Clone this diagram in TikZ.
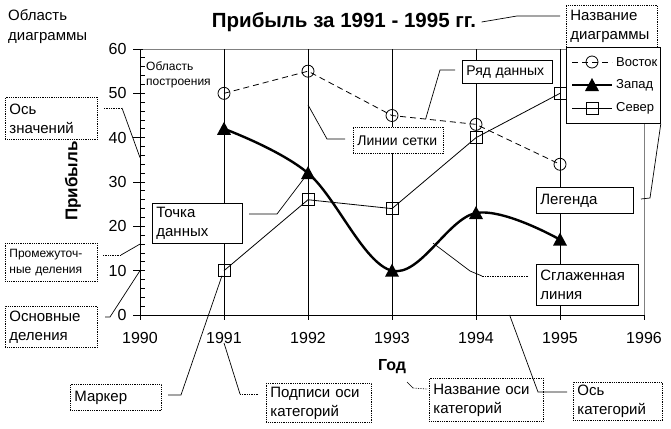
\documentclass[tikz,border=0pt]{standalone}
\usepackage{fontspec}
\setmainfont{Liberation Sans}
\definecolor{cFrame}{HTML}{808080}
\usetikzlibrary{calc}

\tikzset{
  callbox/.style={draw, fill=white, line width=0.8pt, align=left, anchor=north west, inner xsep=4pt, inner ysep=1pt, font=\fontsize{15}{19}\selectfont},
  dotbox/.style={callbox, densely dotted},
  lead/.style={line width=0.7pt},
  eastline/.style={line width=0.8pt, dash pattern=on 6pt off 4pt},
  westline/.style={line width=2.4pt},
  northline/.style={line width=0.8pt},
  legtext/.style={anchor=west, inner sep=1pt, font=\fontsize{13}{15}\selectfont},
  eastmark/.pic={\draw[line width=0.8pt] (0,0) circle (6pt);},
  westmark/.pic={\fill (0,7pt) -- (-7pt,-6pt) -- (7pt,-6pt) -- cycle;},
  northmark/.pic={\draw[line width=0.8pt] (-6pt,-6pt) rectangle (6pt,6pt);},
}

\begin{document}
\begin{tikzpicture}[x=1pt, y=-1pt]
\useasboundingbox (0,0) rectangle (671,428);

% plot area
\begin{scope}[xshift=140pt, yshift=-315pt, x=84pt, y=4.433pt]
  \draw[cFrame, line width=0.8pt] (0,60) -- (6,60) -- (6,0);
  \foreach \i in {1,...,5}
    \draw[line width=0.9pt] (\i,0) -- (\i,60);
  \foreach \v in {2,4,...,58}
    \draw[line width=0.8pt] (0,\v) -- ++(5pt,0);
  \foreach \v in {0,10,...,60} {
    \draw[line width=0.8pt] (0,\v) ++(-7pt,0) -- ++(10pt,0);
    \node[anchor=east, font=\fontsize{16}{18}\selectfont] (val\v) at ([xshift=-10pt]0,\v) {\v};
  }
  \draw[line width=0.9pt] (0,60) -- (0,0) -- (6,0);
  \foreach \i/\yr in {0/1990,1/1991,2/1992,3/1993,4/1994,5/1995,6/1996} {
    \draw[line width=0.8pt] (\i,0) -- ++(0,-5pt);
    \node[font=\fontsize{16}{18}\selectfont] (yr\i) at ([yshift=-23pt]\i,0) {\yr};
  }
  % data: east / west / north
  \foreach \i/\e/\w/\n in {1/50/42/10, 2/55/32/26, 3/45/10/24, 4/43/23/40, 5/34/17/50} {
    \coordinate (e\i) at (\i,\e);
    \coordinate (w\i) at (\i,\w);
    \coordinate (n\i) at (\i,\n);
  }
  \draw[eastline] (e1) -- (e2) -- (e3) -- (e4) -- (e5);
  \draw[northline] (n1) -- (n2) -- (n3) -- (n4) -- (n5);
  \draw[westline] plot[smooth, tension=0.6] coordinates {(1,42) (2,32) (3,10) (4,23) (5,17)};
  \foreach \i in {1,...,5} {
    \pic at (e\i) {eastmark};
    \pic at (w\i) {westmark};
    \pic at (n\i) {northmark};
  }
  % leader targets
  \coordinate (valaxis-pt) at (0,35.5);
  \coordinate (minor-pt) at (0,16);
  \coordinate (major-pt) at (0,10);
  \coordinate (cataxis-pt) at (4.4,0);
  \coordinate (grid-pt) at (2,47.4);
  \coordinate (smooth-pt) at (3.49,16.2);
  \coordinate (series-pt) at ($(e3)!0.4!(e4)$);
\end{scope}

% legend
\node[draw, fill=white, line width=0.8pt, anchor=north west, minimum width=94pt, minimum height=76pt, inner sep=0] (legend) at (566,47) {};
\draw[eastline] (572,62) -- (612,62);
\pic at (592,62) {eastmark};
\node[legtext] (lgeast) at (615,62) {Восток};
\draw[westline] (572,85) -- (612,85);
\pic at (592,85) {westmark};
\node[legtext] (lgwest) at (615,85) {Запад};
\draw[northline] (572,108) -- (612,108);
\pic at (592,108) {northmark};
\node[legtext] (lgnorth) at (615,108) {Север};

% titles
\node[font=\bfseries\fontsize{20.5}{24}\selectfont] (title) at (344,22) {Прибыль за 1991 - 1995 гг.};
\node[rotate=90, font=\bfseries\fontsize{17}{20}\selectfont] (valtitle) at (73,181) {Прибыль};
\node[font=\bfseries\fontsize{16}{20}\selectfont] (cattitle) at (392,367) {Год};
\node[anchor=north west, align=left, inner sep=0, font=\fontsize{15}{20}\selectfont] (chartarea) at (8,9) {Область\\диаграммы};
\node[anchor=north west, align=left, inner sep=0, font=\fontsize{12}{15}\selectfont] (plotarea) at (146,61) {Область\\построения};

% callouts
\node[dotbox, text width=84pt, minimum height=42pt] (valaxis) at (5,97) {Ось\\значений};
\node[dotbox, text width=84pt, minimum height=38pt, font=\fontsize{12}{16}\selectfont] (minorticks) at (5,243) {Промежуточ-\\ные деления};
\node[dotbox, text width=84pt, minimum height=41pt] (majorticks) at (5,306) {Основные\\деления};
\node[callbox, text width=82pt, minimum height=40pt] (datapoint) at (152,203) {Точка\\данных};
\node[dotbox, text width=83pt, minimum height=26pt] (marker) at (70,384) {Маркер};
\node[dotbox, text width=97pt, minimum height=39pt] (catlabels) at (266,383) {Подписи оси\\категорий};
\node[dotbox, text width=106pt, minimum height=43pt] (cattitlebox) at (429,378) {Название оси\\категорий};
\node[dotbox, text width=81pt, minimum height=38pt] (cataxis) at (573,382) {Ось\\категорий};
\node[callbox, text width=94pt, minimum height=41pt] (smoothline) at (536,264) {Сглаженная\\линия};
\node[callbox, text width=89pt, minimum height=26pt] (legendbox) at (536,187) {Легенда};
\node[dotbox, text width=83pt, minimum height=42pt] (charttitle) at (566,5) {Название\\диаграммы};
\node[callbox, text width=82pt, minimum height=23pt, font=\fontsize{14}{19}\selectfont] (series) at (462,60) {Ряд данных};
\node[dotbox, text width=82pt, minimum height=26pt, font=\fontsize{14}{19}\selectfont] (gridlines) at (353,127) {Линии сетки};

% leaders
\coordinate (va-a) at (104,108); \coordinate (va-b) at (122,108);
\draw[lead, densely dotted] (va-a) -- (va-b);
\draw[lead] (va-b) -- (valaxis-pt);
\coordinate (mi-a) at (103,255); \coordinate (mi-b) at (121,255);
\draw[lead, densely dotted] (mi-a) -- (mi-b);
\draw[lead] (mi-b) -- (minor-pt);
\coordinate (ma-a) at (105,317); \coordinate (ma-b) at (110,317);
\draw[lead] (ma-a) -- (ma-b) -- (major-pt);
\coordinate (dp-a) at (249,214); \coordinate (dp-b) at (277,214);
\draw[lead] (dp-a) -- (dp-b) -- (w2);
\coordinate (mk-a) at (168,395); \coordinate (mk-b) at (181,395);
\draw[lead] (mk-a) -- (mk-b) -- ([shift={(-2pt,-5pt)}]n1);
\coordinate (cl-a) at (258,394); \coordinate (cl-b) at (240,394);
\draw[lead, densely dotted] (cl-a) -- (cl-b);
\draw[lead] (cl-b) -- ([yshift=-5pt]yr1.center);
\coordinate (ct-a) at (407,382); \coordinate (ct-b) at (413,388); \coordinate (ct-c) at (427,389);
\draw[lead] (ct-a) -- (ct-b);
\draw[lead, densely dotted] (ct-b) -- (ct-c);
\coordinate (ca-a) at (567,392); \coordinate (ca-b) at (538,392);
\draw[lead] (ca-a) -- (ca-b) -- (cataxis-pt);
\coordinate (sm-a) at (528,276); \coordinate (sm-b) at (482,276); \coordinate (sm-c) at (470,271);
\draw[lead, densely dotted] (sm-a) -- (sm-b);
\draw[lead] (sm-b) -- (sm-c) -- (smooth-pt);
\coordinate (lg-a) at (641,199); \coordinate (lg-b) at (650,198);
\draw[lead] (lg-a) -- (lg-b) -- (legend.south east);
\coordinate (ch-b) at (517,16); \coordinate (ch-c) at (560,16);
\draw[lead] ([xshift=2pt]title.east) -- (ch-b) -- (ch-c);
\coordinate (sr-a) at (455,70); \coordinate (sr-b) at (440,70);
\draw[lead] (sr-a) -- (sr-b) -- (series-pt);
\coordinate (gl-a) at (345,139); \coordinate (gl-b) at (327,139);
\draw[lead] (gl-a) -- (gl-b) -- (grid-pt);
\end{tikzpicture}
\end{document}
